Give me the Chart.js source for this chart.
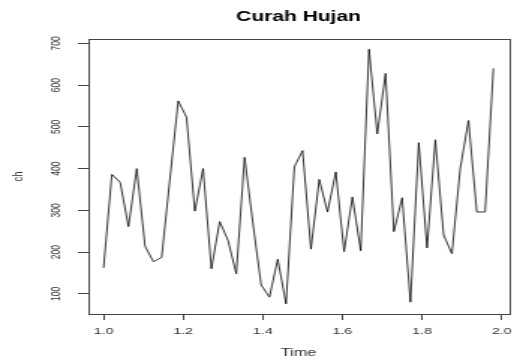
<!DOCTYPE html>
<html>
<head>
<meta charset="utf-8">
<script src="https://cdn.jsdelivr.net/npm/chart.js@4/dist/chart.umd.min.js"></script>
<style>
  html, body { margin: 0; padding: 0; background: #fff; overflow: hidden; }
  /* the reference is an R plot stretched sideways, so the canvas is too */
  #wrap { width: 347px; height: 362px; transform: scaleX(1.4986); transform-origin: 0 0; }
</style>
</head>
<body>
<div id="wrap"><canvas id="grafik" width="347" height="362"></canvas></div>
<script>
const chartTitle = 'Curah Hujan';
const xTitle = 'Time';
const yTitle = 'ch';

// ts(start = 1, frequency = 48)
const tsStart = 1;
const tsFrequency = 48;

const curahHujan = [
  162, 386, 367, 261, 400, 214, 177, 187, 375, 562, 523, 298,
  400, 160, 273, 228, 148, 427, 270, 121, 92, 183, 76, 404,
  443, 207, 374, 296, 392, 201, 332, 203, 686, 483, 628, 249,
  330, 80, 462, 210, 469, 241, 196, 400, 515, 296, 296, 640
];

const xTicks = [1.0, 1.2, 1.4, 1.6, 1.8, 2.0];
const yTicks = [100, 200, 300, 400, 500, 600, 700];

const waktu = curahHujan.map((_, i) => tsStart + i / tsFrequency);
const titik = curahHujan.map((v, i) => ({ x: waktu[i], y: v }));

const fontFam = '"Liberation Sans", Arial, sans-serif';

const bingkai = {
  id: 'bingkai',
  afterDraw(chart) {
    const { ctx, chartArea: a } = chart;
    ctx.save();
    ctx.strokeStyle = '#444';
    ctx.lineWidth = 1;
    ctx.strokeRect(Math.round(a.left) + 0.5, Math.round(a.top) + 0.5,
      Math.round(a.right - a.left), Math.round(a.bottom - a.top));
    ctx.fillStyle = '#000';
    ctx.font = 'bold 14px ' + fontFam;
    ctx.textAlign = 'center';
    ctx.textBaseline = 'middle';
    ctx.fillText(chartTitle, (a.left + a.right) / 2, 17);
    ctx.restore();
  }
};

new Chart(document.getElementById('grafik'), {
  type: 'line',
  data: {
    datasets: [{
      data: titik,
      borderColor: '#000',
      borderWidth: 0.8,
      pointRadius: 0,
      tension: 0,
      fill: false
    }]
  },
  options: {
    responsive: false,
    animation: false,
    devicePixelRatio: 1,
    layout: { padding: { top: 39, right: 2.3, bottom: 0, left: 0 } },
    plugins: { legend: { display: false }, tooltip: { enabled: false } },
    scales: {
      x: {
        type: 'linear',
        min: 0.9608,
        max: 2.0183,
        afterFit: s => { s.height = 48; },
        afterBuildTicks: s => { s.ticks = xTicks.map(v => ({ value: v })); },
        border: { display: false },
        grid: { display: true, drawOnChartArea: false, drawTicks: true, tickLength: 6, color: '#444' },
        ticks: {
          padding: 5.6,
          color: '#333',
          font: { family: fontFam, size: 9.5 },
          maxRotation: 0,
          callback: v => Number(v).toFixed(1)
        },
        title: {
          display: true,
          text: xTitle,
          color: '#333',
          font: { family: fontFam, size: 11 },
          padding: { top: 0, bottom: 2 }
        }
      },
      y: {
        type: 'linear',
        min: 51.6,
        max: 710.4,
        afterFit: s => { s.width = 58.7; },
        afterBuildTicks: s => { s.ticks = yTicks.map(v => ({ value: v })); },
        border: { display: false },
        grid: { display: true, drawOnChartArea: false, drawTicks: true, tickLength: 6.7, color: '#444' },
        ticks: {
          padding: 6.9,
          color: '#333',
          crossAlign: 'center',
          minRotation: 90,
          maxRotation: 90,
          font: { family: fontFam, size: 8.5 }
        },
        title: {
          display: true,
          text: yTitle,
          color: '#333',
          font: { family: fontFam, size: 9.5 },
          padding: { top: 6.5, bottom: 0 }
        }
      }
    }
  },
  plugins: [bingkai]
});
</script>
</body>
</html>
